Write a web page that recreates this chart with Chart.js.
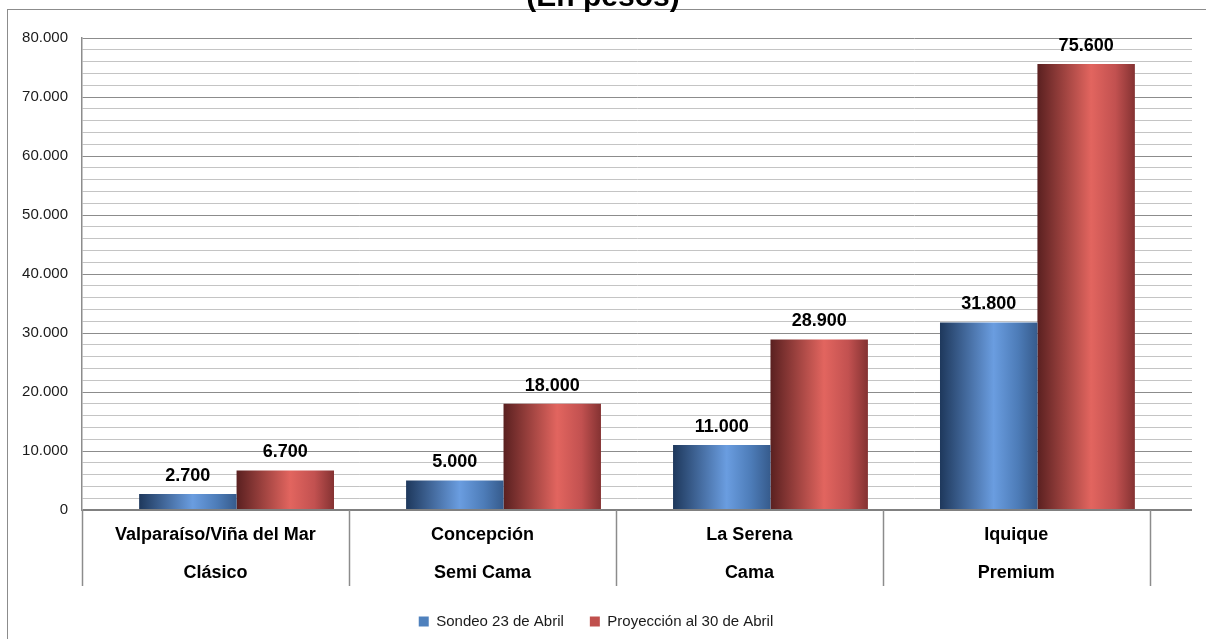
<!DOCTYPE html>
<html>
<head>
<meta charset="utf-8">
<script src="https://cdn.jsdelivr.net/npm/chart.js@4.4.0/dist/chart.umd.min.js"></script>
<style>
  html, body { margin: 0; padding: 0; background: #fff; overflow: hidden; }
  #wrap { position: absolute; left: 0; top: 0; width: 1206px; height: 639px; }
</style>
</head>
<body>
<div id="wrap"><canvas id="priceChart"></canvas></div>
<script>
// Chart data
const cities = ['Valparaíso/Viña del Mar', 'Concepción', 'La Serena', 'Iquique'];
const services = ['Clásico', 'Semi Cama', 'Cama', 'Premium'];
const sondeo = [2700, 5000, 11000, 31800];
const proyeccion = [6700, 18000, 28900, 75600];
const seriesNames = ['Sondeo 23 de Abril', 'Proyección al 30 de Abril'];
const titleText = '(En pesos)';

// depth of the 3d floor, as a share of one category
const DEPTH = 0.079;

function fmt(v) {
  return String(v).replace(/\B(?=(\d{3})+(?!\d))/g, '.');
}

const gradStops = [
  [[0, '#1e385c'], [0.55, '#6a9de0'], [0.8, '#4d7cb8'], [1, '#365b8c']],
  [[0, '#5a2020'], [0.55, '#e2655f'], [0.8, '#c25150'], [1, '#843232']]
];

const framePlugin = {
  id: 'frame',
  beforeDraw(chart) {
    const ctx = chart.ctx;
    ctx.save();
    ctx.fillStyle = '#fff';
    ctx.fillRect(0, 0, chart.width, chart.height);
    ctx.strokeStyle = '#8c8c8c';
    ctx.lineWidth = 1;
    ctx.strokeRect(7.5, 9.5, chart.width + 20, chart.height + 20);
    ctx.fillStyle = '#000';
    ctx.font = 'bold 30px "Liberation Sans", Arial, sans-serif';
    ctx.textAlign = 'center';
    ctx.textBaseline = 'alphabetic';
    ctx.fillText(titleText, chart.width / 2, 6);
    ctx.restore();
  },
  beforeDatasetsDraw(chart) {
    const ctx = chart.ctx;
    chart.data.datasets.forEach((ds, di) => {
      chart.getDatasetMeta(di).data.forEach(bar => {
        const g = ctx.createLinearGradient(bar.x - bar.width / 2, 0, bar.x + bar.width / 2, 0);
        gradStops[di].forEach(s => g.addColorStop(s[0], s[1]));
        bar.options = Object.assign({}, bar.options, { backgroundColor: g });
      });
    });
  },
  afterDatasetsDraw(chart) {
    const ctx = chart.ctx;
    ctx.save();
    ctx.fillStyle = '#000';
    ctx.font = 'bold 18px "Liberation Sans", Arial, sans-serif';
    ctx.textAlign = 'center';
    ctx.textBaseline = 'middle';
    chart.data.datasets.forEach((ds, di) => {
      chart.getDatasetMeta(di).data.forEach((bar, i) => {
        ctx.fillText(fmt(ds.data[i].y), bar.x, bar.y - 18);
      });
    });
    ctx.restore();
  },
  afterDraw(chart) {
    const ctx = chart.ctx;
    const x = chart.scales.x;
    const area = chart.chartArea;
    ctx.save();
    ctx.strokeStyle = '#8c8c8c';
    ctx.lineWidth = 1.5;
    for (let i = 0; i <= cities.length; i++) {
      const px = Math.round(x.getPixelForValue(i - 0.5 - DEPTH)) + 0.5;
      ctx.beginPath();
      ctx.moveTo(px, area.bottom);
      ctx.lineTo(px, area.bottom + 76);
      ctx.stroke();
    }
    ctx.fillStyle = '#000';
    ctx.font = 'bold 18px "Liberation Sans", Arial, sans-serif';
    ctx.textAlign = 'center';
    ctx.textBaseline = 'middle';
    cities.forEach((c, i) => {
      const px = x.getPixelForValue(i - DEPTH);
      ctx.fillText(c, px, area.bottom + 25);
      ctx.fillText(services[i], px, area.bottom + 63);
    });
    ctx.restore();
  }
};

const ctx = document.getElementById('priceChart').getContext('2d');
new Chart(ctx, {
  type: 'bar',
  data: {
    datasets: [
      {
        label: seriesNames[0],
        data: sondeo.map((v, i) => ({ x: i, y: v })),
        backgroundColor: '#4f81bd',
        borderWidth: 0
      },
      {
        label: seriesNames[1],
        data: proyeccion.map((v, i) => ({ x: i, y: v })),
        backgroundColor: '#c0504d',
        borderWidth: 0
      }
    ]
  },
  options: {
    responsive: true,
    maintainAspectRatio: false,
    animation: false,
    categoryPercentage: 0.73,
    barPercentage: 1.0,
    layout: { padding: { left: 0, right: 14, top: 38, bottom: 0 } },
    scales: {
      x: {
        type: 'linear',
        offset: false,
        min: -0.5 - DEPTH,
        max: cities.length - 0.5 + DEPTH,
        ticks: { display: false, stepSize: 1, includeBounds: false },
        grid: { display: false, offset: false },
        border: { display: false },
        afterFit(scale) { scale.height = 78; }
      },
      y: {
        min: 0,
        max: 80000,
        ticks: {
          stepSize: 2000,
          autoSkip: false,
          padding: 14,
          color: '#1a1a1a',
          font: { family: '"Liberation Sans", Arial, sans-serif', size: 15 },
          callback: v => (v % 10000 === 0 ? fmt(v) : '')
        },
        grid: {
          drawTicks: false,
          color: c => (c.tick.value === 0 ? '#808080' : c.tick.value % 10000 === 0 ? '#8c8c8c' : '#c4c4c4'),
          lineWidth: c => (c.tick.value === 0 ? 2 : 1)
        },
        border: { display: true, color: '#8c8c8c', width: 1.5 },
        afterFit(scale) { scale.width = 82; }
      }
    },
    plugins: {
      title: { display: false },
      tooltip: { enabled: false },
      legend: {
        position: 'bottom',
        labels: {
          boxWidth: 10,
          boxHeight: 10,
          padding: 26,
          color: '#1a1a1a',
          font: { family: '"Liberation Sans", Arial, sans-serif', size: 15 }
        }
      }
    }
  },
  plugins: [framePlugin]
});
</script>
</body>
</html>
